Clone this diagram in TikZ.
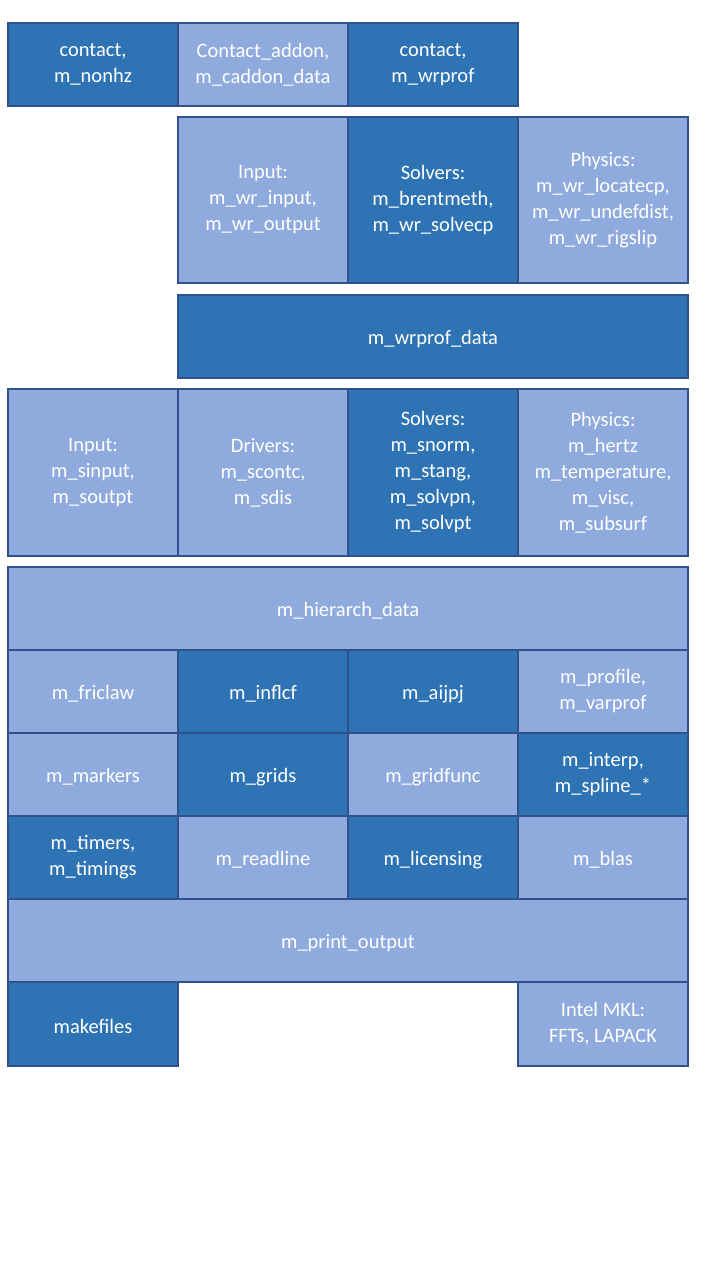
\documentclass[tikz,border=0pt]{standalone}
\usepackage{fontspec}
\setmainfont{Carlito}
\definecolor{darkcell}{HTML}{2E74B5}
\definecolor{lightcell}{HTML}{8FAADC}
\definecolor{celledge}{HTML}{2F528F}
\tikzset{
	cell/.style={draw=celledge, line width=2.8pt, text=white, align=center, inner sep=0pt,
		minimum width=170pt, minimum height=83pt, font=\fontsize{20.5}{26}\selectfont,
		execute at begin node={\rule{0pt}{19pt}}},
	dark/.style={cell, fill=darkcell},
	light/.style={cell, fill=lightcell},
	tall/.style={minimum height=166pt},
	wide/.style={minimum width=680pt}
}
\begin{document}
\begin{tikzpicture}[x=1pt,y=-1pt]
	\useasboundingbox[fill=white] (0,0) rectangle (720,1280);
	% contact layer
	\node[dark] (contact) at (93,64.5) {contact,\\m\_nonhz};
	\node[light] (caddon) at (263,64.5) {Contact\_addon,\\m\_caddon\_data};
	\node[dark] (wrprof) at (433,64.5) {contact,\\m\_wrprof};
	% wrprof modules
	\node[light,tall] (wrinput) at (263,200) {Input:\\m\_wr\_input,\\m\_wr\_output};
	\node[dark,tall] (wrsolvers) at (433,200) {Solvers:\\m\_brentmeth,\\m\_wr\_solvecp};
	\node[light,tall] (wrphysics) at (603,200) {Physics:\\m\_wr\_locatecp,\\m\_wr\_undefdist,\\m\_wr\_rigslip};
	\node[dark,minimum width=510pt] (wrdata) at (433,336.5) {m\_wrprof\_data};
	% cntc modules
	\node[light,minimum height=167pt] (sinput) at (93,472.5) {Input:\\m\_sinput,\\m\_soutpt};
	\node[light,minimum height=167pt] (drivers) at (263,472.5) {Drivers:\\m\_scontc,\\m\_sdis};
	\node[dark,minimum height=167pt] (solvers) at (433,472.5) {Solvers:\\m\_snorm,\\m\_stang,\\m\_solvpn,\\m\_solvpt};
	\node[light,minimum height=167pt] (physics) at (603,472.5) {Physics:\\m\_hertz\\m\_temperature,\\m\_visc,\\m\_subsurf};
	% general modules
	\node[light,wide] (hierarch) at (348,608.5) {m\_hierarch\_data};
	\node[light] (friclaw) at (93,691.5) {m\_friclaw};
	\node[dark] (inflcf) at (263,691.5) {m\_inflcf};
	\node[dark] (aijpj) at (433,691.5) {m\_aijpj};
	\node[light] (profile) at (603,691.5) {m\_profile,\\m\_varprof};
	\node[light] (markers) at (93,774.5) {m\_markers};
	\node[dark] (grids) at (263,774.5) {m\_grids};
	\node[light] (gridfunc) at (433,774.5) {m\_gridfunc};
	\node[dark] (interp) at (603,774.5) {m\_interp,\\m\_spline\_*};
	\node[dark] (timers) at (93,857.5) {m\_timers,\\m\_timings};
	\node[light] (readline) at (263,857.5) {m\_readline};
	\node[dark] (licensing) at (433,857.5) {m\_licensing};
	\node[light] (blas) at (603,857.5) {m\_blas};
	\node[light,wide] (print) at (348,940.5) {m\_print\_output};
	\node[dark,minimum height=84pt] (makefiles) at (93,1024) {makefiles};
	\node[light,minimum height=84pt] (mkl) at (603,1024) {Intel MKL:\\FFTs, LAPACK};
\end{tikzpicture}
\end{document}
